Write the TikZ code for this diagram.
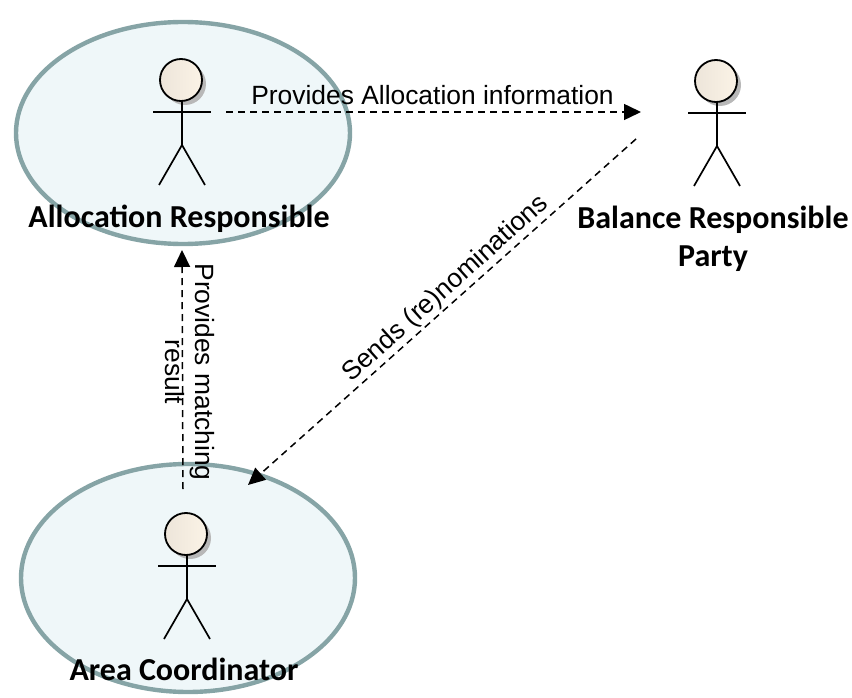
\documentclass[tikz,border=0pt]{standalone}
\usepackage{fontspec}
\setmainfont{Liberation Sans}
\newfontfamily\labelfont{Carlito}[BoldFont={Carlito Bold}]
\usetikzlibrary{arrows.meta,shadings,shapes.geometric}
\tikzset{
  x=1pt,y=-1pt,
  zone/.style={ellipse,draw=zoneline,line width=4.4pt,fill=zonefill,inner sep=0pt},
  actorlabel/.style={font=\labelfont\bfseries\fontsize{32}{38}\selectfont,align=center,text=black,inner sep=0pt},
  flowlabel/.style={font=\fontsize{26.4}{30}\selectfont,align=center,text=black,inner sep=0pt},
  flow/.style={line width=1.5pt,dash pattern=on 7pt off 5pt,-{Triangle[length=17pt,width=16pt]}},
  limb/.style={line width=1.7pt,black},
}
\definecolor{zoneline}{HTML}{86A4A6}
\definecolor{zonefill}{HTML}{EFF7F9}
\definecolor{headl}{HTML}{EDE5DA}
\definecolor{headr}{HTML}{FBF3E6}
\newcommand{\actorfig}[2]{%
  \fill[black!28] (#1+4,#2+4) circle[radius=21];
  \shade[left color=headl,right color=headr,draw=black,line width=1.8pt] (#1,#2) circle[radius=21];
  \draw[limb] (#1+1,#2+21) -- (#1+1,#2+65);
  \draw[limb] (#1-28,#2+32) -- (#1+30,#2+32);
  \draw[limb] (#1-22,#2+105) -- (#1+1,#2+65) -- (#1+24,#2+105);
}
\begin{document}
\begin{tikzpicture}
\useasboundingbox (0,0) rectangle (852,698);
\node[zone,minimum width=334pt,minimum height=222pt] (zoneA) at (183,133) {};
\node[zone,minimum width=334pt,minimum height=228pt] (zoneB) at (188,578) {};
\actorfig{181}{80}
\actorfig{716}{81}
\actorfig{186}{534}
\coordinate (aR) at (226,112);
\coordinate (bL) at (641,112);
\coordinate (bS) at (636,139);
\coordinate (cT) at (248,485);
\coordinate (cS) at (183,489);
\coordinate (aB) at (182,250);
\draw[flow] (aR) -- (bL);
\draw[flow] (bS) -- (cT);
\draw[flow] (cS) -- (aB);
\node[actorlabel] (la) at (179,218.5) {Allocation Responsible};
\node[actorlabel] (lb) at (713,239) {Balance Responsible\\Party};
\node[actorlabel] (lc) at (184,669) {Area Coordinator};
\node[flowlabel] (f1) at (432.5,95) {Provides Allocation information};
\node[flowlabel,rotate=41.8] (f2) at (446,289) {Sends (re)nominations};
\node[flowlabel,rotate=-90] (f3) at (190,372) {Provides matching\\result};
\end{tikzpicture}
\end{document}
